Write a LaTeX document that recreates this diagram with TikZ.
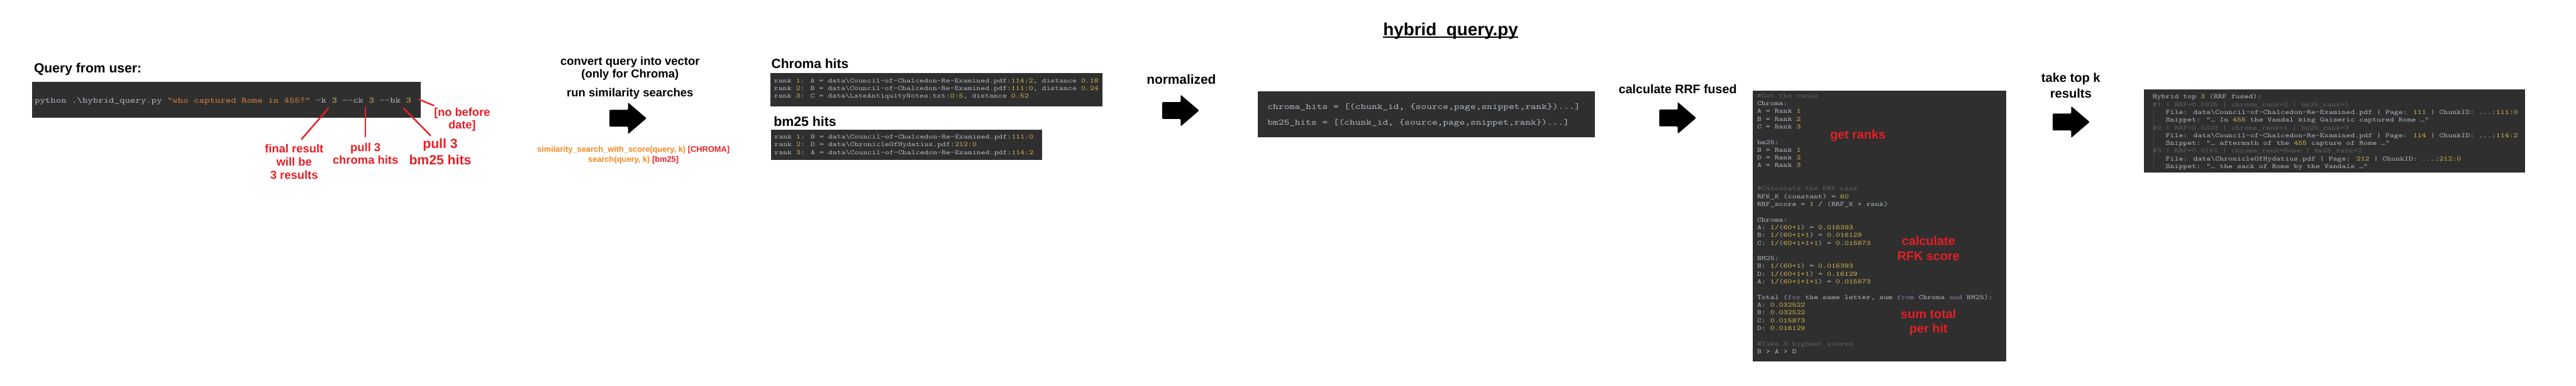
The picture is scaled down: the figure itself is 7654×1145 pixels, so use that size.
\documentclass[tikz,border=0pt]{standalone}
\usepackage{fontspec}
\setmainfont{Liberation Sans}
\newfontfamily\codefont{lmmono10-regular}[Extension=.otf,FakeStretch=1.267]
\usetikzlibrary{calc}

\definecolor{codebg}{HTML}{2F2F2F}
\definecolor{cdef}{HTML}{B2BCC6}
\definecolor{cnum}{HTML}{D9BA4C}
\definecolor{ccmt}{HTML}{626262}
\definecolor{cstr}{HTML}{E3813A}
\definecolor{cdash}{HTML}{9A9A9A}
\definecolor{ckw}{HTML}{9876AA}
\definecolor{annred}{HTML}{E81E25}
\definecolor{annorange}{HTML}{F7871E}

\newcommand\nm[1]{\textcolor{cnum}{#1}}
\newcommand\cmt[1]{\textcolor{ccmt}{#1}}
\newcommand\kw[1]{\textcolor{ckw}{#1}}
\newcommand\bsl{\textbackslash}
\newcommand\codestrut{\rule{0pt}{20pt}}
\newcommand\cind{\hspace*{39pt}}

\tikzset{
  lbl/.style={inner sep=0pt, outer sep=0pt, font={\bfseries\fontsize{#1}{#1}\selectfont}},
  redlbl/.style={lbl=#1, text=annred, anchor=base},
  codetxt/.style={inner sep=0pt, outer sep=0pt, anchor=north west, align=left, text=cdef,
    font={\codefont\fontsize{#1}{23}\selectfont\lineskiplimit=-100pt\lineskip=0pt}},
  codeline/.style={inner sep=0pt, outer sep=0pt, anchor=base west, text=cdef,
    font={\codefont\fontsize{#1}{#1}\selectfont}},
  annline/.style={draw=annred, line width=4.5pt, line cap=round},
  blockarrow/.pic={\fill[black, rounded corners=2.5pt] (0,-25) -- (55,-25) -- (55,-47) -- (110,0) -- (55,47) -- (55,25) -- (0,25) -- cycle;}
}

\begin{document}
\begin{tikzpicture}[x=1pt,y=-1pt]
\fill[white] (0,0) rectangle (7654,1145);
\useasboundingbox (0,0) rectangle (7654,1145);

% title
\node[lbl=52, anchor=base] (title) at (4310,105) {hybrid\_query.py};
\draw[line width=3.4pt] ([yshift=-6pt]title.base west) -- ([yshift=-6pt]title.base east);

% query from user
\node[lbl=39.4, anchor=base west] (qhead) at (101,216) {Query from user:};
\fill[codebg] (95,242) rectangle (1251,350);
\node[codeline=23.7] (cmd) at (103,305) {python .\bsl hybrid\_query.py \textcolor{cstr}{"who captured Rome in 455?"} \textcolor{cdash}{-}k \nm{3} \textcolor{cdash}{-{}-}ck \nm{3} \textcolor{cdash}{-{}-}bk \nm{3}};

% annotations
\coordinate (k1s) at (976,321);  \coordinate (k1e) at (896,413);
\coordinate (k2s) at (1086,318); \coordinate (k2e) at (1086,406);
\coordinate (k3s) at (1199,321); \coordinate (k3e) at (1279,402);
\coordinate (k4s) at (1244,295); \coordinate (k4e) at (1289,313);
\draw[annline] (k1s) -- (k1e);
\draw[annline] (k2s) -- (k2e);
\draw[annline] (k3s) -- (k3e);
\draw[annline] (k4s) -- (k4e);
\node[redlbl=34.4] (fr1) at (874,453) {final result};
\node[redlbl=34.4] (fr2) at (874,492) {will be};
\node[redlbl=34.4] (fr3) at (874,531) {3 results};
\node[redlbl=34.4] (pc1) at (1086,450) {pull 3};
\node[redlbl=34.4] (pc2) at (1086,487) {chroma hits};
\node[redlbl=39.6] (pb1) at (1308,440) {pull 3};
\node[redlbl=39.6] (pb2) at (1308,489) {bm25 hits};
\node[redlbl=34] (nb1) at (1373,345) {[no before};
\node[redlbl=34] (nb2) at (1373,382) {date]};

% convert / search
\node[lbl=34.5, anchor=base] (cv1) at (1872,193) {convert query into vector};
\node[lbl=34.5, anchor=base] (cv2) at (1872,230) {(only for Chroma)};
\node[lbl=34.5, anchor=base] (cv3) at (1872,286) {run similarity searches};
\pic (arr1) at (1811,351) {blockarrow};
\node[lbl=24, anchor=base] (ss1) at (1882,452) {\textcolor{annorange}{similarity\_search\_with\_score(query, k)} \textcolor{annred}{[CHROMA]}};
\node[lbl=24, anchor=base] (ss2) at (1882,482) {\textcolor{annorange}{search(query, k)} \textcolor{annred}{[bm25]}};

% chroma hits
\node[lbl=39.3, anchor=base west] (chhead) at (2292,203) {Chroma hits};
\fill[codebg] (2289,217) rectangle (3275,315);
\node[codetxt=19.5] (chtxt) at (2300,225) {\codestrut rank \nm{1}: A = data\bsl Council-of-Chalcedon-Re-Examined.pdf:\nm{114:2}, distance \nm{0.18}\\
rank \nm{2}: B = data\bsl Council-of-Chalcedon-Re-Examined.pdf:\nm{111:0}, distance \nm{0.24}\\
rank \nm{3}: C = data\bsl LateAntiquityNotes.txt:\nm{0:5}, distance \nm{0.52}};

% bm25 hits
\node[lbl=39.8, anchor=base west] (bmhead) at (2299,374) {bm25 hits};
\fill[codebg] (2291,385) rectangle (3096,474);
\node[codetxt=19.5] (bmtxt) at (2301,392) {\codestrut rank \nm{1}: B = data\bsl Council-of-Chalcedon-Re-Examined.pdf:\nm{111:0}\\
rank \nm{2}: D = data\bsl ChronicleOfHydatius.pdf:\nm{212:0}\\
rank \nm{3}: A = data\bsl Council-of-Chalcedon-Re-Examined.pdf:\nm{114:2}};

% normalized
\node[lbl=39, anchor=base] (normhead) at (3510,250) {normalized};
\pic (arr2) at (3453,328) {blockarrow};
\fill[codebg] (3738,271) rectangle (4738,407);
\node[codeline=24.5] (norm1) at (3766,325) {chroma\_hits = [(chunk\_id, \{source,page,snippet,rank\})...]};
\node[codeline=24.5] (norm2) at (3766,371) {bm25\_hits = [(chunk\_id, \{source,page,snippet,rank\})...]};

% RRF
\node[lbl=36.7, anchor=base] (rrfhead) at (4985,278) {calculate RRF fused};
\pic (arr3) at (4930,350) {blockarrow};
\fill[codebg] (5207,270) rectangle (5960,1072);
\node[codetxt=19.5] (rrftxt) at (5221,270) {\codestrut\cmt{\#Get the ranks}\\
Chroma:\\
A = Rank \nm{1}\\
B = Rank \nm{2}\\
C = Rank \nm{3}\\
\mbox{}\\
bm25:\\
B = Rank \nm{1}\\
D = Rank \nm{2}\\
A = Rank \nm{3}\\
\mbox{}\\
\mbox{}\\
\cmt{\#Calculate the RRF rank}\\
RFK\_K (constant) = \nm{60}\\
RRF\_score = \nm{1} / (RRF\_K + rank)\\
\mbox{}\\
Chroma:\\
A: \nm{1/}(\nm{60+1}) = \nm{0.016393}\\
B: \nm{1/}(\nm{60+1+1}) = \nm{0.016129}\\
C: \nm{1/}(\nm{60+1+1+1}) = \nm{0.015873}\\
\mbox{}\\
BM25:\\
B: \nm{1/}(\nm{60+1}) = \nm{0.016393}\\
D: \nm{1/}(\nm{60+1+1}) = \nm{0.16129}\\
A: \nm{1/}(\nm{60+1+1+1}) = \nm{0.015873}\\
\mbox{}\\
Total (\kw{for} the same letter, sum \kw{from} Chroma \kw{and} BM25):\\
A: \nm{0.032522}\\
B: \nm{0.032522}\\
C: \nm{0.015873}\\
D: \nm{0.016129}\\
\mbox{}\\
\cmt{\#Take 3 highest scores}\\
B > A > D};
\node[redlbl=37] (gr) at (5520,412) {get ranks};
\node[redlbl=37] (cs1) at (5730,727) {calculate};
\node[redlbl=37] (cs2) at (5730,773) {RFK score};
\node[redlbl=37] (st1) at (5730,944) {sum total};
\node[redlbl=37] (st2) at (5730,988) {per hit};

% final
\node[lbl=37.5, anchor=base] (tk1) at (6153,244) {take top k};
\node[lbl=37.5, anchor=base] (tk2) at (6153,290) {results};
\pic (arr4) at (6099,362) {blockarrow};
\fill[codebg] (6370,266) rectangle (7503,512);
\draw[color=black!72, line width=1.2pt] (6399,322) -- (6399,506);
\node[codetxt=19.5] (fintxt) at (6396,273) {\codestrut Hybrid top \nm{3} (RRF fused):\\
\cmt{\#1 | RRF=0.0325 | chroma\_rank=2 | bm25\_rank=1}\\
\cind File: data\bsl Council-of-Chalcedon-Re-Examined.pdf | Page: \nm{111} | ChunkID: ...:\nm{111:0}\\
\cind Snippet: "… In \nm{455} the Vandal king Gaiseric captured Rome …"\\
\cmt{\#2 | RRF=0.0323 | chroma\_rank=1 | bm25\_rank=3}\\
\cind File: data\bsl Council-of-Chalcedon-Re-Examined.pdf | Page: \nm{114} | ChunkID: ...:\nm{114:2}\\
\cind Snippet: "… aftermath of the \nm{455} capture of Rome …"\\
\cmt{\#3 | RRF=0.0161 | chroma\_rank=None | bm25\_rank=2}\\
\cind File: data\bsl ChronicleOfHydatius.pdf | Page: \nm{212} | ChunkID: ...:\nm{212:0}\\
\cind Snippet: "… the sack of Rome by the Vandals …"};
\end{tikzpicture}
\end{document}
